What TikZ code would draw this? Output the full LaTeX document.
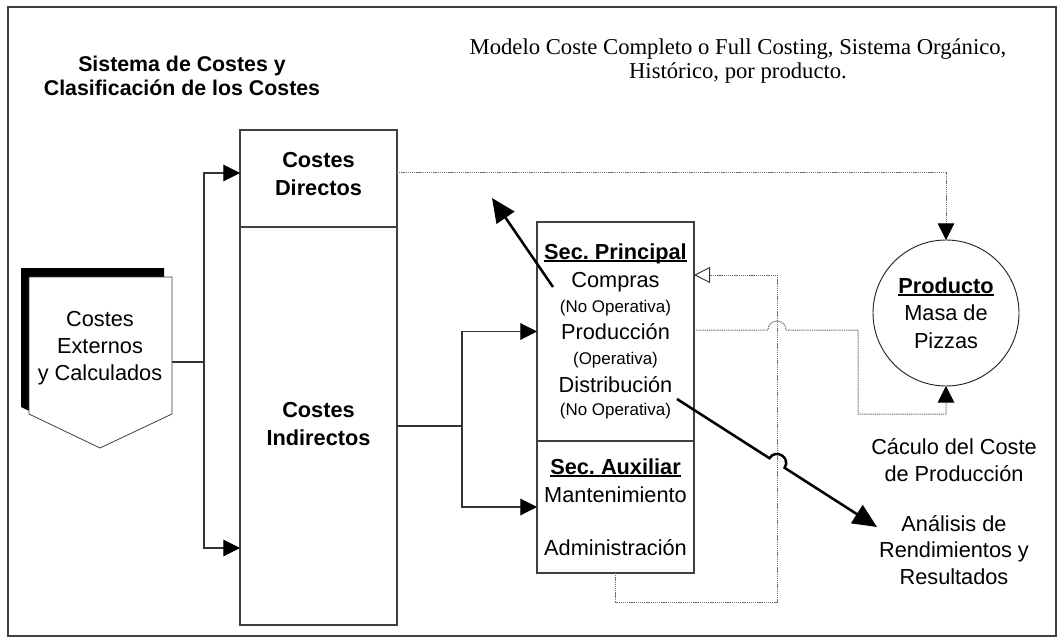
\documentclass[tikz,border=0pt]{standalone}
\usepackage{fontspec}
\setmainfont{Liberation Sans}
\newfontfamily\serifrm{Liberation Serif}
\usetikzlibrary{arrows.meta,calc}
\frenchspacing
% underline drawn close to the baseline
\newcommand\ulx[1]{\setbox0=\hbox{#1}\leavevmode\rlap{\rule[-2pt]{\wd0}{1.3pt}}\box0}

\begin{document}
\begin{tikzpicture}[x=0.75pt,y=-0.75pt,
  every node/.style={inner sep=0pt, outer sep=0pt},
  txt/.style={font=\fontsize{16.3}{20}\selectfont},
  txtb/.style={font=\fontsize{16.3}{21}\selectfont\bfseries},
  txts/.style={font=\fontsize{12.7}{15}\selectfont},
  blk/.style={draw=black!75, line width=0.8pt, fill=white},
  conn/.style={draw=black!80, line width=0.8pt},
  dots/.style={draw=black!55, line width=0.75pt, dash pattern=on 1pt off 0.6pt},
  arr/.style={-{Triangle[length=12.5pt,width=12.5pt,color=black]}},
  openarr/.style={-{Triangle[open,length=12pt,width=12pt,line width=0.7pt,color=black!80]}},
  bigarrow/.style={draw=black, line width=1.9pt, -{Triangle[length=18pt,width=16pt]}}
]
\useasboundingbox (0,0) rectangle (1064,642);
\fill[white] (0,0) rectangle (1064,642);

% outer frame
\draw[draw=black!75, line width=1pt] (8,7) rectangle (1056,636);

% headings
\node[align=center, font=\fontsize{16}{18}\selectfont\bfseries] (title) at (182,76)
  {Sistema de Costes y\\Clasificación de los Costes};
\node[align=center, font=\fontsize{17}{18.5}\selectfont\serifrm] (model) at (738,61)
  {Modelo Coste Completo o Full Costing, Sistema Orgánico,\\Histórico, por producto.};

% off-page source with its shadow
\fill[black] (21,268) -- (164,268) -- (164,407) -- (92,441) -- (21,407) -- cycle;
\draw[blk, line width=0.6pt] (29,277) -- (172,277) -- (172,414) -- (100,448) -- (29,414) -- cycle;
\node[txt, align=center] (ext) at (100,348) {Costes\\Externos\\y Calculados};
\coordinate (extE) at (172,362);

% cost classes
\node[blk, minimum width=117.75pt, minimum height=298.5pt] (ci) at (318.5,426) {};
\node[blk, minimum width=117.75pt, minimum height=72.75pt] (cd) at (318.5,178.5) {};
\node[txtb, align=center] (cdt) at (318.5,174) {Costes\\Directos};
\node[txtb, align=center] (cit) at (318.5,424) {Costes\\Indirectos};

% sections
\node[blk, minimum width=117.75pt, minimum height=164.25pt] (secp) at (615.5,331.5) {};
\node[blk, minimum width=117.75pt, minimum height=99pt] (seca) at (615.5,507) {};

\node[txtb, anchor=base] (tp) at (615.5,259.5) {\ulx{Sec. Principal}};
\node[txt, anchor=base] (compras) at (615.5,287.5) {Compras};
\node[txts, anchor=base] (compop) at (615.5,312) {(No Operativa)};
\node[txt, anchor=base] (produc) at (615.5,339.5) {Producción};
\node[txts, anchor=base] (prodop) at (615.5,364) {(Operativa)};
\node[txt, anchor=base] (distr) at (615.5,392.5) {Distribución};
\node[txts, anchor=base] (distop) at (615.5,415) {(No Operativa)};

\node[txtb, anchor=base] (ta) at (615.5,474.5) {\ulx{Sec. Auxiliar}};
\node[txt, anchor=base] (mant) at (615.5,502.5) {Mantenimiento};
\node[txt, anchor=base] (admin) at (615.5,555.5) {Administración};

% product
\node[draw=black!85, line width=0.7pt, circle, minimum size=109.5pt, align=center,
  font=\fontsize{16.3}{20.5}\selectfont] (prod) at (946,313)
  {\textbf{\ulx{Producto}}\\Masa de\\Pizzas};

% results
\node[txt, align=center] (calc) at (954,460) {Cáculo del Coste\\de Producción};
\node[txt, align=center] (anal) at (954,550) {Análisis de\\Rendimientos y\\Resultados};

% solid distribution connectors
\coordinate (j1) at (204,362);
\draw[conn] (extE) -- (j1);
\draw[conn, arr] (j1) |- ($(cd.west)+(0,-5.5)$);
\draw[conn, arr] (j1) |- ($(ci.west)+(0,122)$);
\coordinate (j2) at (462,426);
\draw[conn] (ci.east) -- (j2);
\draw[conn, arr] (j2) |- (secp.west);
\draw[conn, arr] (j2) |- (seca.west);

% dotted flows
\draw[dots, arr] ($(cd.east)+(0,-6)$) -| (prod.north);
\coordinate (y275) at (0,275);
\coordinate (y330) at (0,330);
\draw[dots, openarr] (seca.south) -- ++(0,29) -| (777,275) -- (secp.east |- y275);
\draw[dots, arr] (secp.east |- y330) -- (768,330) .. controls (768,318) and (786,318) .. (786,330)
  -- (858,330) -- (858,414) -- (946,414) -- (prod.south);

% bold arrows
\coordinate (cS) at (553,287);
\coordinate (cE) at (492,198);
\draw[bigarrow] (cS) -- (cE);
\coordinate (dS) at (677,399);
\coordinate (dE) at (877,527);
\draw[bigarrow] (dS) -- (769.4,458.2) .. controls (775.9,448.1) and (791.1,457.7) .. (784.6,467.8) -- (dE);
\end{tikzpicture}
\end{document}
